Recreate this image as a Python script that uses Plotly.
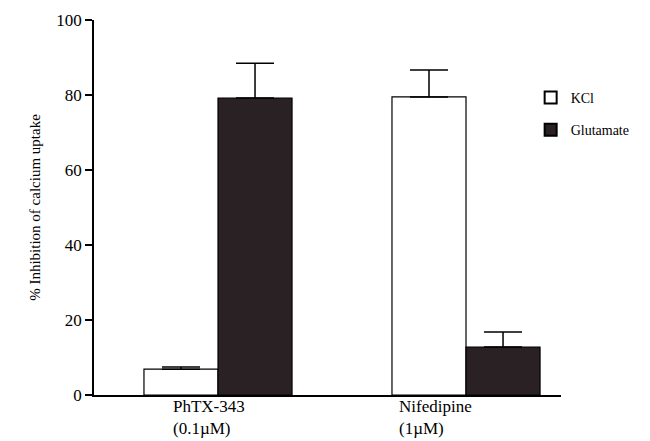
import plotly.graph_objects as go

categories = ["PhTX-343", "Nifedipine"]
concentrations = ["(0.1\u00b5M)", "(1\u00b5M)"]
kcl = [6.9, 79.5]
kcl_err = [0.6, 7.2]
glut = [79.2, 12.8]
glut_err = [9.3, 4.0]
y_ticks = [0, 20, 40, 60, 80, 100]

font = "Liberation Serif"

fig = go.Figure()
fig.add_bar(
    x=categories, y=kcl, name="KCl", legendgroup="a",
    marker=dict(color="white", line=dict(color="black", width=1.2)),
    error_y=dict(type="data", array=kcl_err, arrayminus=[0, 0], symmetric=False,
                 color="black", thickness=1.5, width=19),
)
fig.add_bar(
    x=categories, y=glut, name="Glutamate", legendgroup="b",
    marker=dict(color="#2a2124", line=dict(color="black", width=1.2)),
    error_y=dict(type="data", array=glut_err, arrayminus=[0, 0], symmetric=False,
                 color="black", thickness=1.5, width=19),
)

label_shift = [-47, -69]
for c, conc, dx in zip(categories, concentrations, label_shift):
    fig.add_annotation(x=c, y=0, xref="x", yref="y", text=c, showarrow=False,
                       xanchor="left", yanchor="top", xshift=dx, yshift=0,
                       font=dict(family=font, size=17, color="black"))
    fig.add_annotation(x=c, y=0, xref="x", yref="y", text=conc, showarrow=False,
                       xanchor="left", yanchor="top", xshift=dx, yshift=-22,
                       font=dict(family=font, size=17, color="black"))

fig.update_layout(
    width=650, height=441,
    margin=dict(l=86, r=97, t=12, b=54, autoexpand=False),
    paper_bgcolor="white", plot_bgcolor="white",
    barmode="group", bargap=0.403, bargroupgap=0,
    font=dict(family=font, color="black"),
    showlegend=True,
    legend=dict(x=0.935, y=0.835, xanchor="left", yanchor="top",
                font=dict(family=font, size=14), itemsizing="constant",
                tracegroupgap=11, traceorder="grouped", bgcolor="rgba(0,0,0,0)"),
)
fig.update_xaxes(
    range=[-0.5, 1.383], showticklabels=False, ticks="",
    showline=True, linecolor="black", linewidth=1.5, showgrid=False, zeroline=False,
)
fig.update_yaxes(
    range=[0, 100], tickvals=y_ticks, ticks="outside", ticklen=7, tickwidth=1.5,
    tickcolor="black", showline=True, linecolor="black", linewidth=1.5,
    showgrid=False, zeroline=False, tickfont=dict(family=font, size=17),
    title=dict(text="% Inhibition of calcium uptake", font=dict(family=font, size=15), standoff=12),
)
fig.write_html("out.html")
